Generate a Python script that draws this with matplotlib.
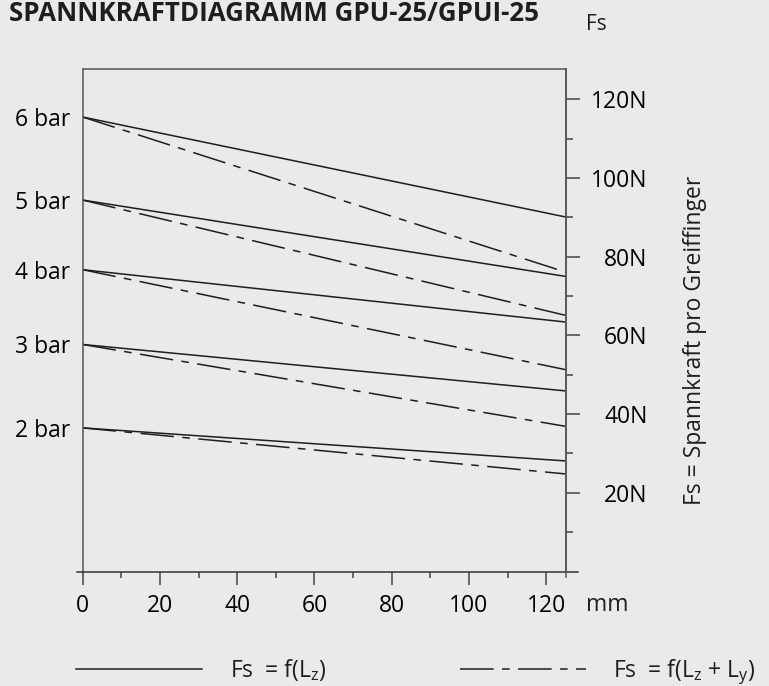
import numpy as np
import matplotlib
matplotlib.use("Agg")
import matplotlib.pyplot as plt
from matplotlib.lines import Line2D

# Spannkraft pro Greiffinger (N) bei 0 mm und 125 mm
druck = ["6 bar", "5 bar", "4 bar", "3 bar", "2 bar"]
x_mm = [0, 125]
fs_start = [115.5, 94.4, 76.7, 57.7, 36.5]
fs_lz_end = [90.1, 75.0, 63.4, 45.9, 28.1]
fs_lzly_end = [76.1, 65.1, 51.3, 36.9, 24.8]

n_ticks = [20, 40, 60, 80, 100, 120]
mm_ticks = [0, 20, 40, 60, 80, 100, 120]

bg = "#e9eaec"
ink = "#1e1e1e"
dash = (0, (22, 5.5, 5, 5.5))
fs = 16.5

plt.rcParams['font.family'] = ['Open Sans', 'DejaVu Sans']
plt.rcParams['font.size'] = fs
plt.rcParams['text.color'] = ink

fig = plt.figure(figsize=(7.69, 6.86), dpi=100, facecolor=bg)
ax = fig.add_axes([0.1075, 0.1669, 0.6279, 0.7325], facecolor=bg)

for i in range(len(druck)):
    ax.plot(x_mm, [fs_start[i], fs_lz_end[i]], color=ink, lw=1.1,
            solid_capstyle='butt')
    ax.plot(x_mm, [fs_start[i], fs_lzly_end[i]], color=ink, lw=1.1,
            linestyle=dash)

ax.set_xlim(0, 125)
ax.set_ylim(0, 127.7)

# linke Achse: Druckangaben
ax.set_yticks(fs_start, druck)
ax.tick_params(axis='y', length=0, pad=9, labelsize=fs)

# x-Achse
ax.set_xticks(mm_ticks, [str(v) for v in mm_ticks])
ax.set_xticks(np.arange(10, 125, 20), minor=True)
ax.tick_params(axis='x', which='major', length=9, width=1.1, pad=7,
               color="#444444", labelsize=fs)
ax.tick_params(axis='x', which='minor', length=4, width=1.1, color="#444444")

for s in ax.spines.values():
    s.set_color("#555555")
    s.set_linewidth(1.1)
ax.spines['bottom'].set_bounds(-1.4, 128.3)
ax.spines['bottom'].set_color("#333333")

# rechte Achse: Spannkraft
ax2 = ax.twinx()
ax2.set_ylim(0, 127.7)
ax2.set_yticks(n_ticks, [f"{v}N" for v in n_ticks])
ax2.set_yticks(np.arange(10, 125, 20), minor=True)
ax2.tick_params(axis='y', which='major', length=10, width=1.1, pad=49,
                color="#444444", labelsize=fs)
ax2.tick_params(axis='y', which='minor', length=5, width=1.1, color="#444444")
for lbl in ax2.get_yticklabels():
    lbl.set_horizontalalignment('right')
for s in ax2.spines.values():
    s.set_visible(False)
ax2.spines['right'].set_visible(True)
ax2.spines['right'].set_color("#555555")
ax2.spines['right'].set_linewidth(1.1)
ax2.spines['right'].set_bounds(-1.5, 127.7)

# Texte
fig.text(9/769, 1 - 21/686, "SPANNKRAFTDIAGRAMM GPU-25/GPUI-25",
         fontsize=18.6, fontweight='bold', va='baseline', ha='left')
fig.text(586/769, 1 - 30/686, "Fs", fontsize=15, va='baseline')
fig.text(586/769, 1 - 611/686, "mm", fontsize=fs, va='baseline')
fig.text(695/769, 1 - 340/686, "Fs = Spannkraft pro Greiffinger",
         rotation=90, ha='center', va='center', fontsize=fs)

# Legende
handles = [Line2D([], [], color=ink, lw=1.1),
           Line2D([], [], color=ink, lw=1.1, linestyle=dash)]
labels = [r"Fs  = f(L$_\mathregular{z}$)",
          r"Fs  = f(L$_\mathregular{z}$ + L$_\mathregular{y}$)"]
fig.legend(handles, labels, loc='lower left', bbox_to_anchor=(0.072, -0.031),
           ncol=2, frameon=False, handlelength=5.5, handletextpad=1.2,
           columnspacing=5.85, fontsize=fs)

fig.savefig("out.png", dpi=100, facecolor=bg)
